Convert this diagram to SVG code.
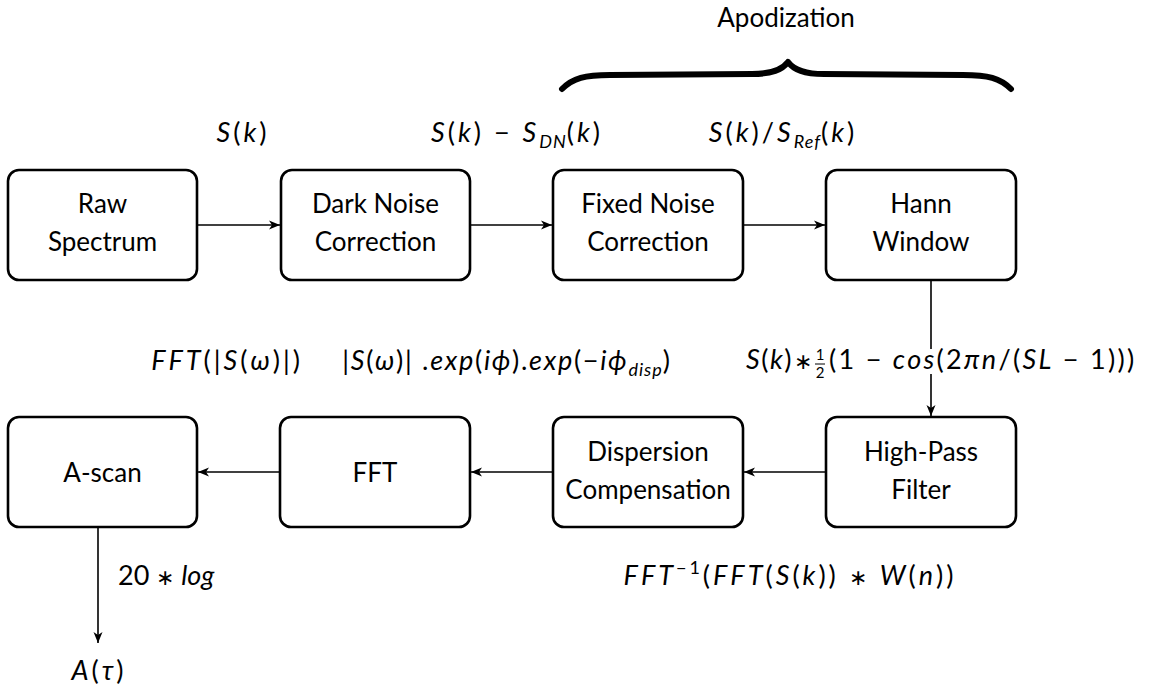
<svg xmlns="http://www.w3.org/2000/svg" width="1158" height="691" viewBox="0 0 1158 691">
<style>
.box{fill:#fff;stroke:#000;stroke-width:2.6}
text{font-family:"Lato","Liberation Sans",sans-serif;fill:#000}
.t{font-size:26px;text-anchor:middle}
.m{font-size:27px;letter-spacing:3px}
.c{text-anchor:middle}
.i{font-style:italic}
.sub{font-size:18px;font-style:italic;letter-spacing:1px}
.ast{font-size:22px}
.ln{stroke:#000;stroke-width:1.6;fill:none}
</style>
<defs>
<marker id="ah" markerUnits="userSpaceOnUse" markerWidth="14" markerHeight="12" refX="11" refY="6" orient="auto">
<path d="M0,1.5 L11,6 L0,10.5 L3,6 Z" fill="#000"/>
</marker>
</defs>
<rect width="1158" height="691" fill="#fff"/>

<g id="connectors">
<line class="ln" x1="197" y1="225" x2="280" y2="225" marker-end="url(#ah)"/>
<line class="ln" x1="470" y1="225" x2="552" y2="225" marker-end="url(#ah)"/>
<line class="ln" x1="743" y1="225" x2="825" y2="225" marker-end="url(#ah)"/>
<line class="ln" x1="931" y1="280" x2="931" y2="416" marker-end="url(#ah)"/>
<line class="ln" x1="826" y1="472" x2="744" y2="472" marker-end="url(#ah)"/>
<line class="ln" x1="553" y1="472" x2="471" y2="472" marker-end="url(#ah)"/>
<line class="ln" x1="280" y1="472" x2="198" y2="472" marker-end="url(#ah)"/>
<line class="ln" x1="98" y1="527" x2="98" y2="643" marker-end="url(#ah)"/>
</g>

<g id="brace">
<path d="M562,89 C573,78 585,75 610,75 L752,74 C772,74 782,70 788,62 C794,70 804,74 824,74 L963,75 C988,75 1000,78 1011,89" fill="none" stroke="#000" stroke-width="6" stroke-linecap="round" stroke-linejoin="round"/>
<text class="t" x="786" y="27">Apodization</text>
</g>

<g id="raw">
<rect class="box" x="8" y="170" width="189" height="110" rx="11"/>
<text class="t" x="102.5" y="213">Raw</text>
<text class="t" x="102.5" y="251">Spectrum</text>
</g>
<g id="dark">
<rect class="box" x="281" y="170" width="189" height="110" rx="11"/>
<text class="t" x="375.5" y="213">Dark Noise</text>
<text class="t" x="375.5" y="251">Correction</text>
</g>
<g id="fixed">
<rect class="box" x="553" y="170" width="190" height="110" rx="11"/>
<text class="t" x="648" y="213">Fixed Noise</text>
<text class="t" x="648" y="251">Correction</text>
</g>
<g id="hann">
<rect class="box" x="826" y="170" width="190" height="110" rx="11"/>
<text class="t" x="921" y="213">Hann</text>
<text class="t" x="921" y="251">Window</text>
</g>
<g id="highpass">
<rect class="box" x="826" y="417" width="190" height="110" rx="11"/>
<text class="t" x="921" y="461">High-Pass</text>
<text class="t" x="921" y="499">Filter</text>
</g>
<g id="dispersion">
<rect class="box" x="553" y="417" width="190" height="110" rx="11"/>
<text class="t" x="648" y="461">Dispersion</text>
<text class="t" x="648" y="499">Compensation</text>
</g>
<g id="fft">
<rect class="box" x="280" y="417" width="190" height="110" rx="11"/>
<text class="t" x="375" y="482">FFT</text>
</g>
<g id="ascan">
<rect class="box" x="8" y="417" width="189" height="110" rx="11"/>
<text class="t" x="102.5" y="482">A-scan</text>
</g>

<g id="labels">
<text class="m c" x="243" y="142"><tspan class="i">S</tspan>(<tspan class="i">k</tspan>)</text>
<text class="m c" x="517" y="142"><tspan class="i">S</tspan>(<tspan class="i">k</tspan>) − <tspan class="i">S</tspan><tspan class="sub" dy="6">DN</tspan><tspan dy="-6">(</tspan><tspan class="i">k</tspan>)</text>
<text class="m c" x="783" y="142"><tspan class="i">S</tspan>(<tspan class="i">k</tspan>)/<tspan class="i">S</tspan><tspan class="sub" dy="6">Ref</tspan><tspan dy="-6">(</tspan><tspan class="i">k</tspan>)</text>

<text class="m c" x="227" y="370"><tspan class="i">FFT</tspan>(|<tspan class="i">S</tspan>(<tspan class="i">ω</tspan>)|)</text>
<text class="m c" x="507" y="370" style="letter-spacing:1.7px">|<tspan class="i">S</tspan>(<tspan class="i">ω</tspan>)| .<tspan class="i">exp</tspan>(<tspan class="i">iϕ</tspan>).<tspan class="i">exp</tspan>(−<tspan class="i">iϕ</tspan><tspan class="sub" dy="6">disp</tspan><tspan dy="-6">)</tspan></text>

<rect x="745" y="349" width="400" height="25" fill="#fff"/>
<text class="m" x="746" y="369" style="letter-spacing:1.5px"><tspan class="i">S</tspan>(<tspan class="i">k</tspan>)<tspan class="ast" x="794">∗</tspan></text>
<text x="820" y="360" style="font-size:15px;text-anchor:middle">1</text>
<line x1="815" y1="364" x2="825" y2="364" stroke="#000" stroke-width="1"/>
<text x="820" y="378" style="font-size:15px;text-anchor:middle">2</text>
<text class="m" x="829" y="369" style="letter-spacing:2.3px">(1 − <tspan class="i">cos</tspan>(2<tspan class="i">πn</tspan>/(<tspan class="i">SL</tspan> − 1)))</text>

<text class="m c" x="790" y="585"><tspan class="i">FFT</tspan><tspan style="font-size:18px" dy="-11">−1</tspan><tspan dy="11">(</tspan><tspan class="i">FFT</tspan>(<tspan class="i">S</tspan>(<tspan class="i">k</tspan>)) <tspan class="ast">∗</tspan> <tspan class="i">W</tspan>(<tspan class="i">n</tspan>))</text>

<text class="m" x="118" y="585" style="letter-spacing:0">20 <tspan class="ast">∗</tspan> <tspan class="i">log</tspan></text>
<text class="m c" x="99" y="680"><tspan class="i">A</tspan>(<tspan class="i">τ</tspan>)</text>
</g>
</svg>
